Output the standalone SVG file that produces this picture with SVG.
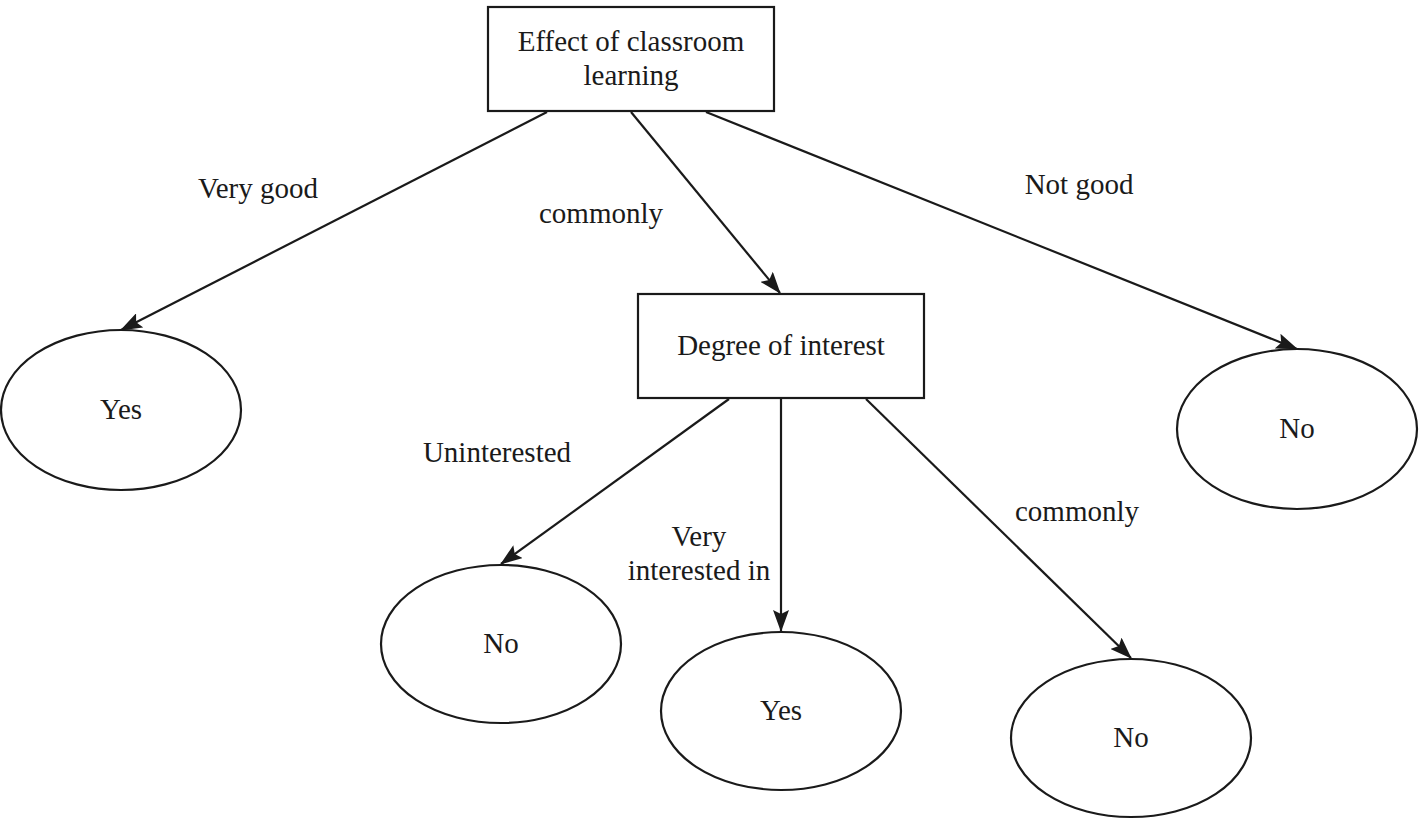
<svg xmlns="http://www.w3.org/2000/svg" width="1424" height="820" viewBox="0 0 1424 820">
<style>
.n{fill:#fff;stroke:#1a1a1a;stroke-width:2.2}
.t{font-family:"Liberation Serif","Times New Roman",serif;font-size:29px;fill:#1a1a1a;text-anchor:middle}
.c{stroke:#1a1a1a;stroke-width:2.2;fill:none;marker-end:url(#ah)}
</style>
<defs>
<marker id="ah" viewBox="0 0 22 16" refX="21" refY="8" markerWidth="22" markerHeight="16" markerUnits="userSpaceOnUse" orient="auto">
<path d="M0,0 L22,8 L0,16 L4,8 Z" fill="#1a1a1a"/>
</marker>
</defs>
<rect width="1424" height="820" fill="#fff"/>
<g id="connectors">
<line class="c" x1="547" y1="112" x2="121" y2="330"/>
<line class="c" x1="631" y1="112" x2="780" y2="293"/>
<line class="c" x1="706" y1="112" x2="1297" y2="349"/>
<line class="c" x1="729" y1="399" x2="501" y2="564"/>
<line class="c" x1="781" y1="399" x2="781" y2="631"/>
<line class="c" x1="866" y1="399" x2="1131" y2="658"/>
<text class="t" x="258" y="198">Very good</text>
<text class="t" x="601" y="223">commonly</text>
<text class="t" x="1079" y="194">Not good</text>
<text class="t" x="497" y="462">Uninterested</text>
<text class="t" x="699" y="546">Very</text>
<text class="t" x="699" y="580">interested in</text>
<text class="t" x="1077" y="521">commonly</text>
</g>
<g id="root">
<rect class="n" x="488" y="7" width="286" height="104"/>
<text class="t" x="631" y="51">Effect of classroom</text>
<text class="t" x="631" y="85">learning</text>
</g>
<g id="interest">
<rect class="n" x="638" y="294" width="286" height="104"/>
<text class="t" x="781" y="355">Degree of interest</text>
</g>
<g id="yes1">
<ellipse class="n" cx="121" cy="410" rx="120" ry="80"/>
<text class="t" x="121" y="419">Yes</text>
</g>
<g id="no1">
<ellipse class="n" cx="1297" cy="429" rx="120" ry="80"/>
<text class="t" x="1297" y="438">No</text>
</g>
<g id="no2">
<ellipse class="n" cx="501" cy="644" rx="120" ry="79"/>
<text class="t" x="501" y="653">No</text>
</g>
<g id="yes2">
<ellipse class="n" cx="781" cy="711" rx="120" ry="79"/>
<text class="t" x="781" y="720">Yes</text>
</g>
<g id="no3">
<ellipse class="n" cx="1131" cy="738" rx="120" ry="79"/>
<text class="t" x="1131" y="747">No</text>
</g>
</svg>
